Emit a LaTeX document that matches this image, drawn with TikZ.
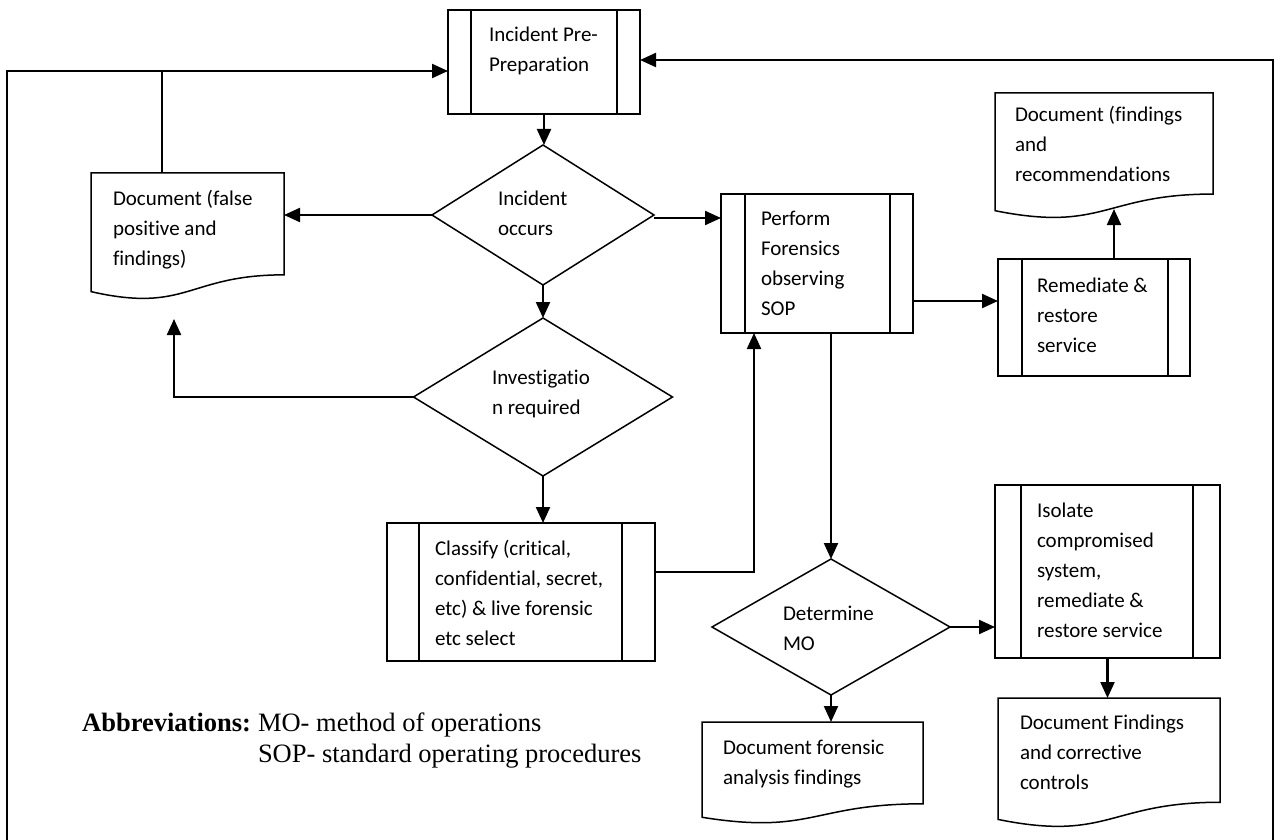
\documentclass[tikz,border=0pt]{standalone}
\usepackage{fontspec}
\setmainfont{Liberation Serif}
\newfontfamily\calibri[Ligatures=NoCommon]{Carlito}
\usetikzlibrary{arrows.meta,shapes.geometric,calc}

\newcommand\docoutline[1]{%
  \draw[docline] (#1.north west) -- (#1.north east)
    -- ($(#1.north east)!0.802!(#1.south east)$)
    .. controls ($(#1.north)!0.802!(#1.south)$) and ($(#1.north)!1.1075!(#1.south)$)
    .. ($(#1.north west)!0.934!(#1.south west)$) -- cycle;}
\newcommand\innerbars[3]{%
  \draw[line width=1.6pt] ([xshift=#2pt]#1.north west) -- ([xshift=#2pt]#1.south west);
  \draw[line width=1.6pt] ([xshift=-#3pt]#1.north east) -- ([xshift=-#3pt]#1.south east);}

\begin{document}
\begin{tikzpicture}[x=1pt,y=-1pt,
  proc/.style={draw,rectangle,line width=1.8pt,inner sep=0pt,outer sep=0pt},
  dec/.style={draw,diamond,line width=1.5pt,inner sep=0pt,outer sep=0pt},
  docnode/.style={rectangle,inner sep=0pt,outer sep=0pt,anchor=north west},
  docline/.style={line width=1.5pt,line join=miter},
  txt/.style={anchor=north west,inner sep=0pt,outer sep=0pt,align=left,
              font=\calibri\fontsize{21}{30}\selectfont},
  abbr/.style={inner sep=0pt,outer sep=0pt,font=\fontsize{26.5}{31}\selectfont},
  conn/.style={line width=2.2pt,-{Triangle[length=16pt,width=14pt]}},
  loopline/.style={line width=1.5pt}]

\useasboundingbox (0,0) rectangle (1278,840);
\fill[white] (0,0) rectangle (1278,840);

% process boxes
\node[proc,minimum width=192pt,minimum height=104pt] (pp) at (544,62) {};
\innerbars{pp}{23}{23}
\node[proc,minimum width=192pt,minimum height=139pt] (perf) at (817,263.5) {};
\innerbars{perf}{24}{23}
\node[proc,minimum width=192pt,minimum height=117pt] (rem) at (1094,317.5) {};
\innerbars{rem}{24}{22}
\node[proc,minimum width=268pt,minimum height=138pt] (cls) at (521,592) {};
\innerbars{cls}{32}{33}
\node[proc,minimum width=225pt,minimum height=173pt] (iso) at (1107.5,571.5) {};
\innerbars{iso}{26}{27}

% decisions
\node[dec,minimum width=222pt,minimum height=140pt] (inc) at (543,215) {};
\node[dec,minimum width=259pt,minimum height=158pt] (inv) at (543,397) {};
\node[dec,minimum width=238pt,minimum height=136pt] (mo) at (831,627) {};

% documents
\node[docnode,minimum width=193pt,minimum height=127pt] (d1) at (91,173) {};
\docoutline{d1}
\node[docnode,minimum width=218pt,minimum height=126pt] (d3) at (995,93) {};
\docoutline{d3}
\node[docnode,minimum width=221pt,minimum height=102pt] (d4) at (702,722) {};
\docoutline{d4}
\node[docnode,minimum width=222pt,minimum height=130pt] (d5) at (998,698) {};
\docoutline{d5}

% texts
\node[txt] (tpp) at (489,21) {\strut Incident Pre-\\Preparation};
\node[txt] (tinc) at (498,184) {\strut Incident\\occurs};
\node[txt] (td1) at (113,184) {\strut Document (false\\positive and\\findings)};
\node[txt] (tinv) at (492,363) {\strut Investigatio\\n required};
\node[txt] (tcls) at (435,534) {\strut Classify (critical,\\confidential, secret,\\etc) \& live forensic\\etc select};
\node[txt] (tperf) at (761,204) {\strut Perform\\Forensics\\observing\\SOP};
\node[txt] (trem) at (1037,271) {\strut Remediate \&\\restore\\service};
\node[txt] (td3) at (1015,101) {\strut Document (findings\\and\\recommendations};
\node[txt] (tmo) at (783,599) {\strut Determine\\MO};
\node[txt] (tiso) at (1037,496) {\strut Isolate\\compromised\\system,\\remediate \&\\restore service};
\node[txt] (td4) at (723,733) {\strut Document forensic\\analysis findings};
\node[txt] (td5) at (1020,708) {\strut Document Findings\\and corrective\\controls};

\node[abbr,anchor=base east] (tab) at (251,731) {\textbf{Abbreviations:}};
\node[abbr,anchor=base west] (tmo1) at (258,731) {MO- method of operations};
\node[abbr,anchor=base west] (tsop) at (258,762) {SOP- standard operating procedures};

% helper coordinates
\coordinate (j1) at (162,71);
\coordinate (bl) at (7,842);
\coordinate (tl) at (7,71);
\coordinate (br) at (1273,842);
\coordinate (tr) at (1273,60);
\coordinate (c1) at (174,319);
\coordinate (c2) at (754,572);
\coordinate (c3) at (955,301);
\coordinate (c4) at (1114,209);
\coordinate (c5) at (1200,60);

% connectors
\draw[conn] (pp.south) -- (pp.south |- inc.north);
\draw[conn] (inc.west) -- (inc.west -| d1.east);
\draw[conn] ([yshift=-3pt]inc.east) -- ([yshift=-3pt]inc.east -| perf.west);
\draw[conn] (inc.south) -- (inv.north);
\draw[conn] (inv.west) -| (c1);
\draw[conn] (inv.south) -- (inv.south |- cls.north);
\draw[conn] (cls.east |- c2) -- (c2) -- (c2 |- perf.south);
\draw[conn] (mo.north |- perf.south) -- (mo.north);
\draw[conn] (perf.east |- c3) -- (rem.west |- c3);
\draw[conn] (rem.north -| c4) -- (c4);
\draw[conn] (mo.east) -- (mo.east -| iso.west);
\draw[conn] (mo.south) -- (mo.south |- d4.north);
\draw[conn] (iso.south) -- (iso.south |- d5.north);

% loop-back lines
\draw[loopline] (bl) -- (tl) -- (j1);
\draw[loopline] (j1 |- d1.north) -- (j1);
\draw[conn] (j1) -- (pp.west |- j1);
\draw[loopline] (br) -- (tr) -- (c5);
\draw[conn] (c5) -- (pp.east |- c5);
\end{tikzpicture}
\end{document}
